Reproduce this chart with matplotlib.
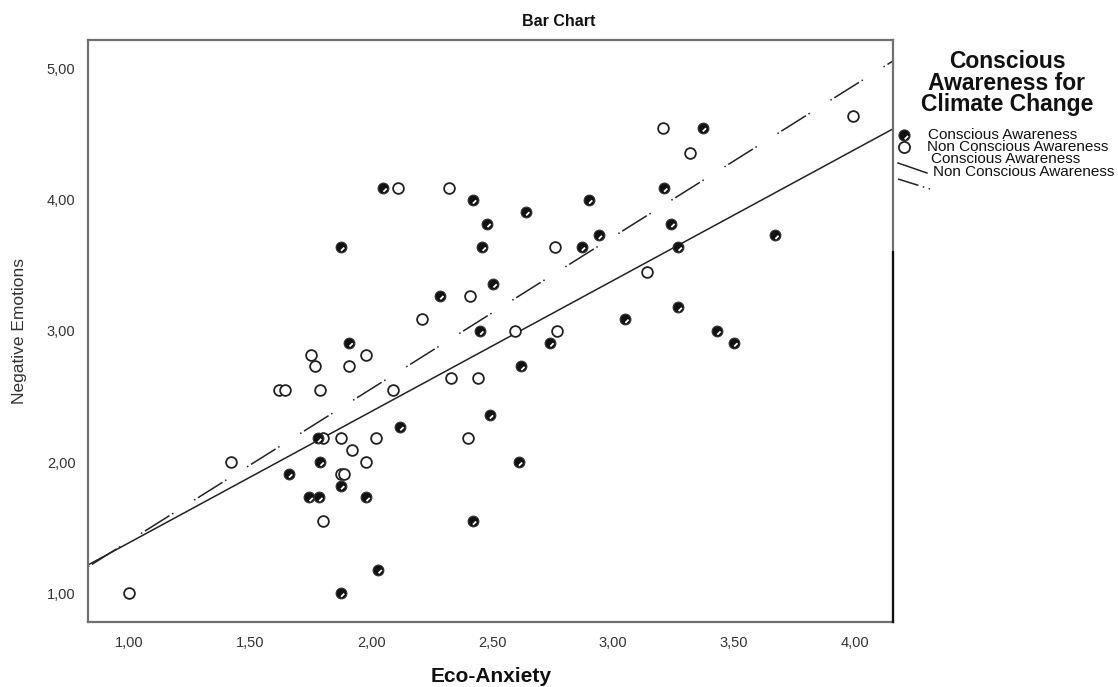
import numpy as np
import matplotlib
matplotlib.use("Agg")
import matplotlib.pyplot as plt
from matplotlib.lines import Line2D
from matplotlib.path import Path
from matplotlib.ticker import FuncFormatter, FixedLocator

plt.rcParams['font.family'] = ['Liberation Sans', 'DejaVu Sans']

# ---- data ----
conscious_x = [1.91, 2.12, 1.78, 1.79, 1.66, 1.875, 1.745, 1.785, 1.98, 2.03,
               1.875, 2.05, 2.42, 2.64, 2.48, 1.875, 2.46, 2.505, 2.285, 2.45,
               2.74, 2.62, 2.49, 2.61, 2.42, 3.37, 3.21, 2.90, 3.24, 2.94,
               2.87, 3.27, 3.67, 3.27, 3.05, 3.43, 3.50]
conscious_y = [2.91, 2.27, 2.18, 2.00, 1.91, 1.82, 1.73, 1.73, 1.73, 1.18,
               1.00, 4.09, 4.00, 3.91, 3.82, 3.64, 3.64, 3.36, 3.27, 3.00,
               2.91, 2.73, 2.36, 2.00, 1.55, 4.55, 4.09, 4.00, 3.82, 3.73,
               3.64, 3.64, 3.73, 3.18, 3.09, 3.00, 2.91]

nonconscious_x = [1.75, 1.98, 1.77, 1.91, 1.62, 1.645, 1.79, 2.09, 1.80, 1.875,
                  2.02, 1.92, 1.42, 1.98, 1.875, 1.89, 1.80, 1.00, 2.11, 2.32,
                  2.76, 2.41, 2.21, 2.595, 2.77, 2.33, 2.44, 2.40, 3.205, 3.99,
                  3.32, 3.14]
nonconscious_y = [2.82, 2.82, 2.73, 2.73, 2.55, 2.55, 2.55, 2.55, 2.18, 2.18,
                  2.18, 2.09, 2.00, 2.00, 1.91, 1.91, 1.55, 1.00, 4.09, 4.09,
                  3.64, 3.27, 3.09, 3.00, 3.00, 2.64, 2.64, 2.18, 4.55, 4.64,
                  4.36, 3.45]

# fit lines (intercept, slope)
fit_conscious = [0.385, 1.00]
fit_nonconscious = [0.238, 1.16]

x_ticks = [1.00, 1.50, 2.00, 2.50, 3.00, 3.50, 4.00]
y_ticks = [1.00, 2.00, 3.00, 4.00, 5.00]

# ---- figure ----
W, H = 1118, 687
fig = plt.figure(figsize=(W / 100, H / 100), dpi=100)
ax = fig.add_axes([88 / W, 1 - 622 / H, (893 - 88) / W, (622 - 40) / H])
ax.set_xlim(0.83, 4.157)
ax.set_ylim(0.78, 5.22)

fmt = FuncFormatter(lambda v, p: f"{v:.2f}".replace('.', ','))
ax.xaxis.set_major_locator(FixedLocator(x_ticks))
ax.yaxis.set_major_locator(FixedLocator(y_ticks))
ax.xaxis.set_major_formatter(fmt)
ax.yaxis.set_major_formatter(fmt)
ax.tick_params(length=0, labelsize=10.5, colors='#333333')
ax.tick_params(axis='x', pad=10)
ax.tick_params(axis='y', pad=9)

for s in ax.spines.values():
    s.set_color('#707070')
    s.set_linewidth(1.6)
# darker lower part of the right frame
ax.add_line(Line2D([1, 1], [0, 0.636], transform=ax.transAxes, color='#111111',
                   lw=1.6, clip_on=False, zorder=5))

# markers: black disc with a small white slash, and open circle
slash = Path([(-0.5, 0.5), (0.02, -0.34), (0.32, -0.04)],
             [Path.MOVETO, Path.MOVETO, Path.LINETO])
msize = 60

ax.scatter(nonconscious_x, nonconscious_y, s=msize, facecolors='white',
           edgecolors='#222222', linewidths=1.3, zorder=3)
ax.scatter(conscious_x, conscious_y, s=msize, facecolors='#111111',
           edgecolors='#333333', linewidths=0.8, zorder=4)
ax.scatter(conscious_x, conscious_y, s=msize, marker=slash, facecolors='none',
           edgecolors='white', linewidths=1.3, zorder=5)

# fit lines
xl = np.array(ax.get_xlim())
ax.plot(xl, fit_conscious[0] + fit_conscious[1] * xl, color='#222222', lw=1.1,
        zorder=2)
dashdot = (0, (1, 2, 19, 2, 1, 16))
ax.plot(xl, fit_nonconscious[0] + fit_nonconscious[1] * xl, color='#222222',
        lw=1.1, linestyle=dashdot, zorder=2)

ax.set_ylabel("Negative Emotions", fontsize=12.5, color='#333333', labelpad=14)


def fx(px):
    return px / W


def fy(py):
    return 1 - py / H


fig.text(fx(491), fy(682), "Eco-Anxiety", ha='center', va='baseline',
         fontsize=15, fontweight='bold', color='#111111')
fig.text(fx(559), fy(22), "Bar Chart", ha='center', va='center',
         fontsize=11.5, fontweight='bold', color='#111111')

# ---- legend (drawn by hand, SPSS style) ----
fig.text(fx(1007), fy(83), "Conscious\nAwareness for\nClimate Change",
         ha='center', va='center', fontsize=16.5, fontweight='bold',
         linespacing=0.9, color='#111111')

leg_fs = 11
fig.add_artist(Line2D([fx(904)], [fy(135)], marker='o', markersize=8,
                      markerfacecolor='#111111', markeredgecolor='#333333',
                      markeredgewidth=0.8, transform=fig.transFigure))
fig.add_artist(Line2D([fx(904)], [fy(135)], marker=slash, markersize=8,
                      markerfacecolor='none', markeredgecolor='white',
                      markeredgewidth=1.3, transform=fig.transFigure))
fig.text(fx(928), fy(135), "Conscious Awareness", ha='left', va='center',
         fontsize=leg_fs, color='#111111')

fig.add_artist(Line2D([fx(904)], [fy(147)], marker='o', markersize=8,
                      markerfacecolor='white', markeredgecolor='#222222',
                      markeredgewidth=1.3, transform=fig.transFigure))
fig.text(fx(927), fy(147), "Non Conscious Awareness", ha='left', va='center',
         fontsize=leg_fs, color='#111111')

fig.add_artist(Line2D([fx(898), fx(927)], [fy(163), fy(173)], color='#222222',
                      lw=1.1, transform=fig.transFigure))
fig.text(fx(931), fy(159), "Conscious Awareness", ha='left', va='center',
         fontsize=leg_fs, color='#111111')

fig.add_artist(Line2D([fx(898), fx(930)], [fy(179), fy(189)], color='#222222',
                      lw=1.1, linestyle=(0, (14, 3, 1, 3)),
                      transform=fig.transFigure))
fig.text(fx(933), fy(172), "Non Conscious Awareness", ha='left', va='center',
         fontsize=leg_fs, color='#111111')

fig.savefig("out.png", dpi=100, facecolor='white')
